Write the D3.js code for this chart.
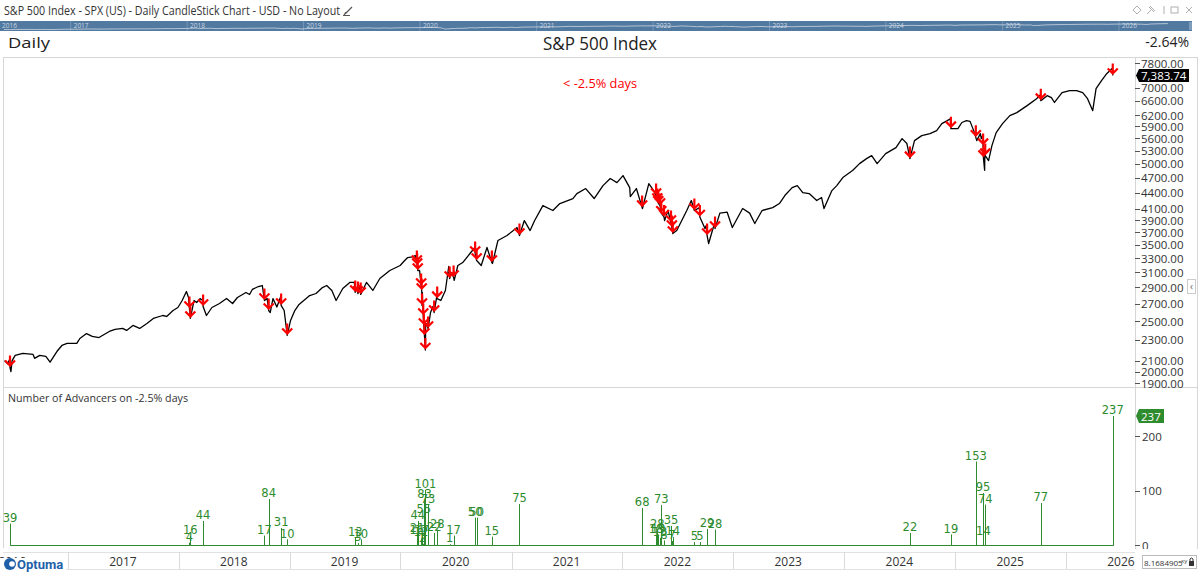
<!DOCTYPE html>
<html><head><meta charset="utf-8">
<script src="https://cdn.jsdelivr.net/npm/d3@7"></script>
<style>
body{margin:0;background:#fff;}
svg{display:block;font-family:"Open Sans","Noto Sans",sans-serif;}
</style></head><body>
<svg id="c" width="1199" height="574"></svg>
<script>
// ---------- DATA ----------
const priceDates = [
"2016-06-06","2016-06-16","2016-06-23","2016-06-24","2016-06-27","2016-07-01","2016-07-11","2016-08-05","2016-09-08","2016-09-13","2016-09-30","2016-10-20","2016-11-03","2016-11-28","2016-12-12","2016-12-29",
"2017-01-30","2017-02-09","2017-03-03","2017-03-22","2017-04-13","2017-05-17","2017-06-05","2017-06-30","2017-07-13","2017-08-03","2017-08-25","2017-09-18","2017-10-09","2017-11-09","2017-11-22","2017-12-13","2017-12-29",
"2018-01-12","2018-01-26","2018-02-02","2018-02-05","2018-02-08","2018-02-20","2018-03-01","2018-03-12","2018-03-21","2018-03-22","2018-04-02","2018-04-20","2018-05-15","2018-06-07","2018-06-27","2018-07-13","2018-08-10","2018-08-22","2018-08-31","2018-09-20","2018-10-03","2018-10-10","2018-10-19","2018-10-24","2018-10-29","2018-11-07","2018-11-20","2018-12-03","2018-12-04","2018-12-14","2018-12-24",
"2019-01-04","2019-01-18","2019-02-01","2019-03-08","2019-03-29","2019-04-19","2019-05-03","2019-05-20","2019-06-03","2019-06-25","2019-07-18","2019-08-02","2019-08-05","2019-08-09","2019-08-14","2019-08-20","2019-08-23","2019-09-11","2019-10-02","2019-10-25","2019-11-27","2019-12-31",
"2020-01-15","2020-01-24","2020-02-10","2020-02-19","2020-02-24","2020-02-25","2020-02-27","2020-03-04","2020-03-09","2020-03-11","2020-03-12","2020-03-13","2020-03-16","2020-03-18","2020-03-20","2020-03-23","2020-03-24","2020-03-27","2020-04-01","2020-04-09","2020-04-17","2020-04-21","2020-04-29","2020-05-01","2020-05-13","2020-05-28","2020-06-08","2020-06-11","2020-06-17","2020-06-24","2020-06-26","2020-07-08","2020-07-24","2020-08-17","2020-09-02","2020-09-03","2020-09-08","2020-09-23","2020-10-12","2020-10-28","2020-10-30","2020-11-17","2020-12-17",
"2021-01-19","2021-01-27","2021-01-29","2021-02-12","2021-03-03","2021-03-18","2021-04-14","2021-05-17","2021-06-09","2021-07-22","2021-08-04","2021-09-02","2021-09-30","2021-10-29","2021-11-22","2021-12-14",
"2022-01-03","2022-01-25","2022-01-27","2022-02-16","2022-03-07","2022-03-08","2022-03-29","2022-04-14","2022-04-22","2022-04-26","2022-04-29","2022-05-05","2022-05-09","2022-05-18","2022-05-20","2022-05-31","2022-06-10","2022-06-13","2022-06-16","2022-06-29","2022-08-01","2022-08-16","2022-08-26","2022-09-12","2022-09-13","2022-09-30","2022-10-04","2022-10-07","2022-10-12","2022-11-01","2022-11-02","2022-11-18","2022-12-12","2022-12-29",
"2023-02-01","2023-02-24","2023-03-13","2023-04-06","2023-05-11","2023-06-02","2023-06-20","2023-07-14","2023-07-31","2023-08-18","2023-09-08","2023-10-03","2023-10-19","2023-10-27","2023-11-22","2023-12-08","2023-12-28",
"2024-01-29","2024-02-21","2024-03-15","2024-04-01","2024-04-19","2024-05-17","2024-06-20","2024-07-10","2024-07-26","2024-08-05","2024-08-20","2024-09-13","2024-10-10","2024-11-01","2024-11-18","2024-12-06","2024-12-16","2024-12-18",
"2025-01-10","2025-01-23","2025-02-07","2025-02-19","2025-03-03","2025-03-10","2025-03-13","2025-03-25","2025-03-28","2025-04-02","2025-04-03","2025-04-04","2025-04-08","2025-04-09","2025-04-10","2025-04-21","2025-05-02","2025-05-16","2025-06-06","2025-06-30","2025-07-23","2025-08-26","2025-09-26","2025-10-09","2025-10-10","2025-10-31","2025-11-14","2025-11-24","2025-12-19",
"2026-01-13","2026-02-05","2026-02-25","2026-03-13","2026-03-30","2026-04-10","2026-04-28","2026-05-15","2026-06-01","2026-06-03","2026-06-04"
];
const priceCloses = [
2100,2071,2113,2037,2000,2100,2149,2168,2158,2121,2149,2140,2085,2196,2245,2265,
2265,2315,2366,2336,2325,2388,2409,2420,2399,2452,2420,2474,2529,2562,2551,2619,2654,
2737,2848,2774,2643,2529,2737,2713,2760,2737,2666,2562,2654,2701,2762,2701,2774,2836,2811,2874,2911,2924,2737,2762,2619,2596,2760,2660,2790,2678,2619,2346,
2507,2619,2690,2798,2823,2898,2924,2861,2737,2886,2964,2964,2836,2900,2823,2900,2811,2964,2861,3016,3124,3194,
3265,3306,3318,3338,3236,3194,3124,3124,2924,2861,2678,2836,2562,2452,2346,2200,2447,2470,2420,2596,2666,2596,2774,2760,2737,2861,3180,3016,3096,3030,2990,3194,3236,3367,3458,3367,3265,3194,3458,3236,3222,3566,3645,
3776,3645,3677,3894,3726,3894,4160,4070,4197,4291,4386,4484,4291,4543,4686,4604,
4748,4503,4329,4484,4123,4106,4583,4444,4348,4253,4205,4160,4023,3956,3894,4070,3860,3776,3677,3726,4070,4253,4070,4123,3956,3759,3809,3645,3519,3860,3759,4023,4040,3776,
4106,4023,3843,4070,4123,4197,4348,4503,4543,4405,4386,4253,4310,4106,4444,4543,4707,
4854,5005,5117,5185,5005,5231,5372,5588,5468,5117,5539,5663,5713,5789,5970,6050,6102,5840,
5840,6000,6050,6030,5789,5620,5539,5713,5588,5663,5419,5140,4860,5349,5185,5072,5419,5738,5970,6184,6267,6463,6665,6780,6607,6754,6694,6554,6844,
6904,6904,6844,6665,6322,6965,7215,7441,7607,7584,7383.74
];
const eventDates = [
"2016-06-24","2018-02-05","2018-02-08","2018-03-22","2018-10-10","2018-10-24","2018-12-04","2018-12-24",
"2019-08-05","2019-08-14","2019-08-23",
"2020-02-24","2020-02-25","2020-02-27","2020-03-09","2020-03-11","2020-03-12","2020-03-16","2020-03-18","2020-03-20","2020-03-23","2020-04-01","2020-04-21","2020-05-01","2020-06-11","2020-06-24","2020-09-03","2020-09-08","2020-10-28",
"2021-01-27",
"2022-03-07","2022-04-22","2022-04-26","2022-04-29","2022-05-05","2022-05-09","2022-05-18","2022-06-10","2022-06-13","2022-06-16","2022-08-26","2022-09-13","2022-10-07","2022-11-02",
"2024-08-05","2024-12-18","2025-03-10","2025-04-03","2025-04-04","2025-04-10","2025-10-10","2026-06-04"
];
const eventAdvancers = [
39,4,16,44,17,84,31,10,
13,3,10,
16,21,44,12,17,1,2,55,83,101,73,22,28,1,17,50,50,15,
75,
68,18,28,19,13,73,8,35,7,14,5,5,29,28,
22,19,153,95,14,74,77,237
];
const priceTicks = [7800,7000,6600,6200,5900,5600,5300,5000,4700,4400,4100,3900,3700,3500,3300,3100,2900,2700,2500,2300,2100,2000,1900];
const advancerTicks = [0,100,200];
const yearLabels = [2016,2017,2018,2019,2020,2021,2022,2023,2024,2025,2026];
const lastCloseLabel = "7,383.74";
const dayChangeLabel = "-2.64%";

// ---------- BUILD ----------
const parse = d3.timeParse("%Y-%m-%d");
const price = priceDates.map((d,i)=>({date:parse(d), value:priceCloses[i]}));
const events = eventDates.map((d,i)=>({date:parse(d), value:eventAdvancers[i]}));

const W=1199, H=574;
const svg = d3.select("#c");
svg.append("rect").attr("width",W).attr("height",H).attr("fill","#fff");

const x = d3.scaleTime().domain([new Date(2017,0,1), new Date(2026,0,1)]).range([68,1066]);
const y = d3.scaleLog().domain([1900,7800]).range([383.3,63]);
const yb = d3.scaleLinear().domain([0,237]).range([545,416]);

// header
svg.append("text").attr("x",4).attr("y",10).attr("dominant-baseline","central")
  .attr("font-size",12).attr("fill","#333").attr("textLength",336).attr("lengthAdjust","spacingAndGlyphs")
  .text("S&P 500 Index - SPX (US) - Daily CandleStick Chart - USD - No Layout");
svg.append("path").attr("d","M345,14 L352,7 M344,15 L346,12").attr("stroke","#555").attr("stroke-width",1.2).attr("fill","none");
svg.append("line").attr("x1",343).attr("x2",350).attr("y1",15.5).attr("y2",15.5).attr("stroke","#555");

// top right icons
const ic = svg.append("g").attr("stroke","#b0b0b0").attr("fill","none").attr("stroke-width",1);
ic.append("path").attr("d","M1137,6 L1141,10 L1137,14 L1133,10 Z");
ic.append("path").attr("d","M1147,14 L1151,10 M1149,7 L1154,12 M1150,6 L1155,11");
ic.append("path").attr("d","M1164,6 L1164,14");
ic.append("rect").attr("x",1171).attr("y",7).attr("width",7).attr("height",6);
ic.append("path").attr("d","M1186,7 L1192,13 M1192,7 L1186,13");

// navigator
const nav = svg.append("g");
nav.append("rect").attr("x",0).attr("y",21).attr("width",1192).attr("height",10).attr("fill","#52799f");
const xn = d3.scaleTime().domain([new Date(2017,0,1), new Date(2026,0,1)]).range([70.7,1119]);
const yn = d3.scaleLog().domain([1900,7800]).range([30,23.5]);
yearLabels.forEach(yr=>{
  const xd = xn(new Date(yr,0,1));
  if (xd>0) nav.append("line").attr("x1",xd).attr("x2",xd).attr("y1",21).attr("y2",31).attr("stroke","#7d9dbd").attr("stroke-width",0.8);
  nav.append("text").attr("x",Math.max(2,xd+3)).attr("y",25).attr("dominant-baseline","central")
    .attr("font-size",6.5).attr("fill","#c8d5e2").text(yr);
});
nav.append("path").datum(price).attr("d",d3.line().x(d=>xn(d.date)).y(d=>yn(d.value)))
  .attr("fill","none").attr("stroke","#dbe4ee").attr("stroke-width",0.7);
nav.append("rect").attr("x",1189).attr("y",22).attr("width",3).attr("height",8).attr("fill","#7d9dbd");

// titles
svg.append("text").attr("x",8).attr("y",42).attr("dominant-baseline","central").attr("font-size",15).attr("fill","#222")
  .attr("textLength",42).attr("lengthAdjust","spacingAndGlyphs").text("Daily");
svg.append("text").attr("x",600).attr("y",43).attr("text-anchor","middle").attr("dominant-baseline","central")
  .attr("font-size",18).attr("fill","#222").attr("textLength",114).attr("lengthAdjust","spacingAndGlyphs").text("S&P 500 Index");
svg.append("text").attr("x",1189).attr("y",41).attr("text-anchor","end").attr("dominant-baseline","central")
  .attr("font-size",14).attr("fill","#222").text(dayChangeLabel);

// frame lines
const fr = svg.append("g").attr("stroke","#d6d6d6").attr("stroke-width",1).attr("shape-rendering","crispEdges");
fr.append("line").attr("x1",3).attr("x2",1198).attr("y1",57).attr("y2",57);
fr.append("line").attr("x1",3).attr("x2",3).attr("y1",57).attr("y2",548);
fr.append("line").attr("x1",3).attr("x2",1198).attr("y1",387).attr("y2",387);
fr.append("line").attr("x1",1135).attr("x2",1135).attr("y1",57).attr("y2",550);
fr.append("line").attr("x1",1197).attr("x2",1197).attr("y1",57).attr("y2",550);

// clip for price
svg.append("clipPath").attr("id","pc").append("rect").attr("x",3).attr("y",57).attr("width",1132).attr("height",330);
svg.append("clipPath").attr("id","bc").append("rect").attr("x",3).attr("y",388).attr("width",1132).attr("height",160);

// price axis
const pa = svg.append("g");
priceTicks.forEach(t=>{
  pa.append("line").attr("x1",1135).attr("x2",1140).attr("y1",Math.round(y(t))+0.5).attr("y2",Math.round(y(t))+0.5).attr("stroke","#555");
  pa.append("text").attr("x",1141).attr("y",y(t)).attr("dominant-baseline","central").attr("font-size",11.5).attr("fill","#333").text(d3.format(".2f")(t));
});
// last value label
const lv = price[price.length-1].value;
const ly = y(lv);
pa.append("path").attr("d",`M1136,${ly} L1139,${ly-6.5} L1189,${ly-6.5} L1189,${ly+6.5} L1139,${ly+6.5} Z`).attr("fill","#000");
pa.append("text").attr("x",1141).attr("y",ly).attr("dominant-baseline","central").attr("font-size",11.5).attr("fill","#fff").text(lastCloseLabel);

// collapse tab
svg.append("rect").attr("x",1187.5).attr("y",279.5).attr("width",8).attr("height",14).attr("fill","#fff").attr("stroke","#ccc");
svg.append("text").attr("x",1191.5).attr("y",286).attr("text-anchor","middle").attr("dominant-baseline","central").attr("font-size",10).attr("fill","#666").text("‹");

// red label
svg.append("text").attr("x",600).attr("y",83).attr("text-anchor","middle").attr("dominant-baseline","central")
  .attr("font-size",12.5).attr("fill","#ff0000").attr("textLength",74).attr("lengthAdjust","spacingAndGlyphs").text("< -2.5% days");

// price line
const pg = svg.append("g").attr("clip-path","url(#pc)");
pg.append("path").datum(price).attr("d",d3.line().x(d=>x(d.date)).y(d=>y(d.value)))
  .attr("fill","none").attr("stroke","#000").attr("stroke-width",1.3).attr("stroke-linejoin","round");

// arrows
const bis = d3.bisector(d=>d.date).left;
function priceAt(dt){
  let i = bis(price, dt);
  if (i>=price.length) i = price.length-1;
  if (i>0 && Math.abs(price[i-1].date-dt) < Math.abs(price[i].date-dt)) i = i-1;
  return price[i].value;
}
events.forEach(e=>{
  const ax = x(e.date), ay = y(priceAt(e.date)) - 2;
  pg.append("path").attr("d",`M${ax},${ay-10} L${ax},${ay} M${ax-5},${ay-5} L${ax},${ay} L${ax+5},${ay-5}`)
    .attr("fill","none").attr("stroke","#ff0000").attr("stroke-width",2.2);
});

// lower panel
svg.append("text").attr("x",8).attr("y",397).attr("dominant-baseline","central").attr("font-size",11.5).attr("fill","#333")
  .attr("textLength",180).attr("lengthAdjust","spacingAndGlyphs").text("Number of Advancers on -2.5% days");
const bg = svg.append("g").attr("clip-path","url(#bc)");
const green = "#2e8b2e";
const b0 = Math.round(yb(0))+0.5;
let dp = `M${Math.round(x(events[0].date))+0.5},${b0}`;
events.forEach(e=>{
  const xx = Math.round(x(e.date))+0.5;
  dp += `L${xx},${b0}L${xx},${yb(e.value)}L${xx},${b0}`;
});
bg.append("path").attr("d",dp).attr("fill","none").attr("stroke",green).attr("stroke-width",1);
events.forEach(e=>{
  bg.append("text").attr("x",x(e.date)).attr("y",yb(e.value)-2).attr("text-anchor","middle")
    .attr("font-family","DejaVu Sans").attr("font-size",11.5).attr("fill",green).text(e.value);
});
// lower axis
advancerTicks.forEach(t=>{
  svg.append("line").attr("x1",1135).attr("x2",1140).attr("y1",Math.round(yb(t))+0.5).attr("y2",Math.round(yb(t))+0.5).attr("stroke","#555");
  svg.append("text").attr("x",1142).attr("y",yb(t)).attr("dominant-baseline","central").attr("font-size",11.5).attr("fill","#333").text(t);
});
const lastEv = events[events.length-1];
svg.append("path").attr("d",`M1136,${yb(lastEv.value)} L1139,${yb(lastEv.value)-7} L1164,${yb(lastEv.value)-7} L1164,${yb(lastEv.value)+7} L1139,${yb(lastEv.value)+7} Z`).attr("fill",green);
svg.append("text").attr("x",1141).attr("y",yb(lastEv.value)).attr("dominant-baseline","central").attr("font-size",11.5).attr("fill","#fff").text(lastEv.value);

// x axis strip
const xa = svg.append("g");
xa.append("line").attr("x1",3).attr("x2",1197).attr("y1",552.5).attr("y2",552.5).attr("stroke","#e2e2e2");
xa.append("line").attr("x1",3).attr("x2",1197).attr("y1",569.5).attr("y2",569.5).attr("stroke","#e2e2e2");
yearLabels.forEach(yr=>{
  const xd = Math.round(x(new Date(yr,0,1)))+0.5;
  if (xd>3 && xd<1135) xa.append("line").attr("x1",xd).attr("x2",xd).attr("y1",552).attr("y2",569).attr("stroke","#dadada");
  xa.append("text").attr("x",x(new Date(yr,6,1))).attr("y",561).attr("text-anchor","middle").attr("dominant-baseline","central")
    .attr("font-size",12).attr("fill","#333").text(yr);
});
xa.append("rect").attr("x",1135).attr("y",549).attr("width",64).attr("height",25).attr("fill","#fff");

// Optuma logo
const lg = svg.append("g");
lg.append("rect").attr("x",0).attr("y",558).attr("width",66).attr("height",16).attr("fill","#fff");
lg.append("circle").attr("cx",10).attr("cy",564).attr("r",6).attr("fill","#1d5fa8");
lg.append("circle").attr("cx",12).attr("cy",564).attr("r",2.8).attr("fill","#fff");
lg.append("text").attr("x",17).attr("y",564).attr("dominant-baseline","central").attr("font-family","Liberation Sans Narrow, Roboto, sans-serif")
  .attr("font-weight","bold").attr("font-size",13).attr("fill","#1d5fa8").text("Optuma");

// bottom-right box
svg.append("rect").attr("x",1142.5).attr("y",555.5).attr("width",54).attr("height",13).attr("fill","#fff").attr("stroke","#bbb");
svg.append("text").attr("x",1144).attr("y",562).attr("dominant-baseline","central").attr("font-size",8).attr("fill","#333").text("8.1684905");
svg.append("text").attr("x",1181).attr("y",561).attr("dominant-baseline","central").attr("font-size",6).attr("fill","#333").text("xy");
svg.append("rect").attr("x",1189).attr("y",561).attr("width",5).attr("height",5).attr("fill","#333");
svg.append("path").attr("d","M1190,561 L1190,559 Q1191.5,557 1193,559 L1193,561").attr("fill","none").attr("stroke","#333");
</script>
</body></html>
